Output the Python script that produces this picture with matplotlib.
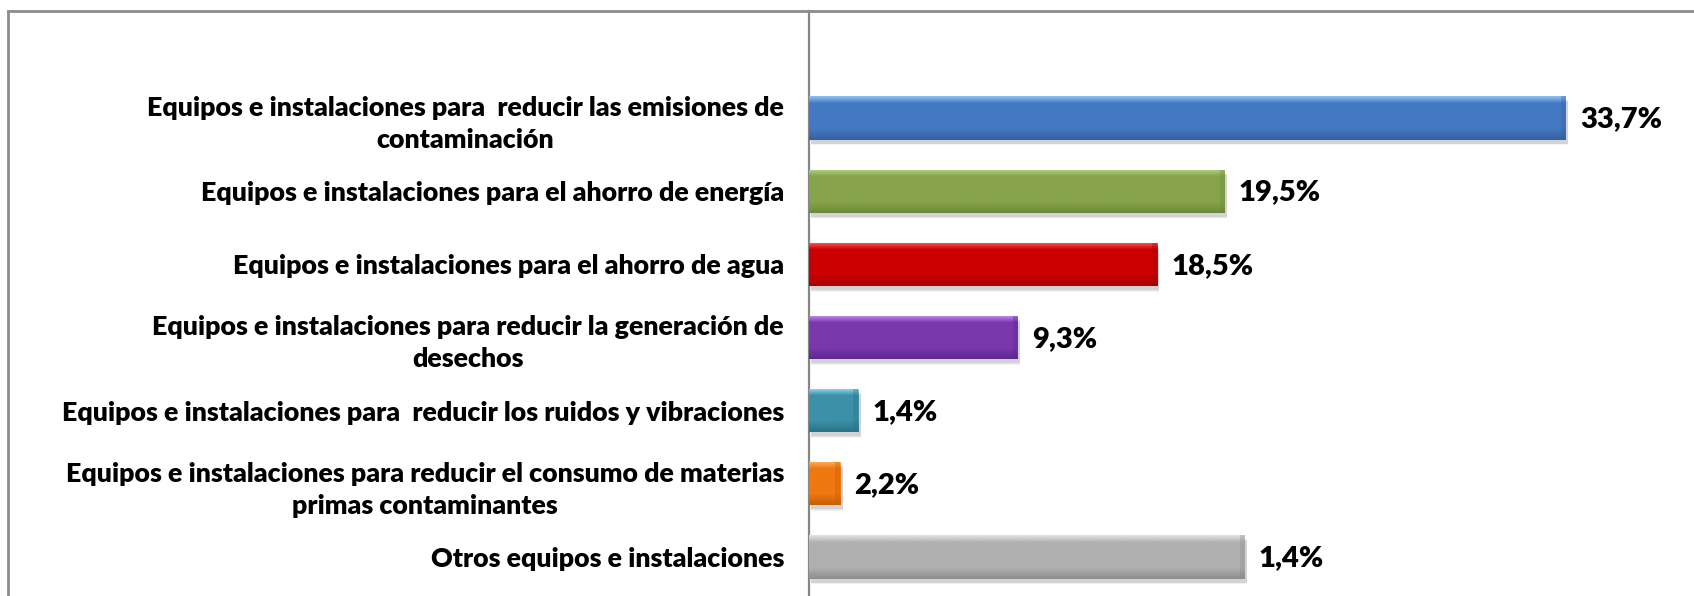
import numpy as np
import matplotlib
matplotlib.use("Agg")
import matplotlib.pyplot as plt
from matplotlib.colors import LinearSegmentedColormap
from matplotlib.lines import Line2D

# ── datos ─────────────────────────────────────────────────────────
categorias = [
    "Equipos e instalaciones para  reducir las emisiones de\ncontaminación",
    "Equipos e instalaciones para el ahorro de energía",
    "Equipos e instalaciones para el ahorro de agua",
    "Equipos e instalaciones para reducir la generación de\ndesechos",
    "Equipos e instalaciones para  reducir los ruidos y vibraciones",
    "Equipos e instalaciones para reducir el consumo de materias\nprimas contaminantes",
    "Otros equipos e instalaciones",
]
# longitud de las barras tal como aparece dibujada
valores = [33.7, 18.5, 15.5, 9.3, 2.2, 1.4, 19.4]
# etiquetas tal como aparecen en el gráfico
etiquetas = ["33,7%", "19,5%", "18,5%", "9,3%", "1,4%", "2,2%", "1,4%"]

# (claro, base, oscuro)
colores = [
    ("#8ec0f5", "#4379c2", "#3561a0"),
    ("#b5cf7c", "#86a34c", "#6d8a3a"),
    ("#ff5a5a", "#cc0000", "#a80000"),
    ("#c58ef0", "#7a38ae", "#5f2790"),
    ("#8fdcf0", "#3c90a8", "#2c7288"),
    ("#ffb060", "#ef7810", "#c85e05"),
    ("#e2e2e2", "#b0b0b0", "#8e8e8e"),
]

FONT = ["Lato", "DejaVu Sans"]

W, H = 1694, 596
fig = plt.figure(figsize=(W / 100, H / 100), dpi=100)
fig.patch.set_facecolor("white")

x0, top = 809, 11
ax = fig.add_axes([x0 / W, 0, 1 - x0 / W, 1 - top / H])
px_per_pct = 22.46

y = np.arange(len(categorias))
alto = 0.59

# sombra
dy = 4 / 73.2
for k, a in enumerate([0.10, 0.08, 0.06]):
    ax.barh(y + dy + k * 0.012, valores, height=alto, left=0.1,
            color="#404040", alpha=a, linewidth=0, zorder=1)

bars = ax.barh(y, valores, height=alto, color=[c[1] for c in colores],
               linewidth=0, zorder=2)

# degradado vertical tipo "bisel"
grad = np.linspace(0, 1, 64).reshape(-1, 1)
for b, (cl, cb, co) in zip(bars, colores):
    cmap = LinearSegmentedColormap.from_list(
        "b", [(0, cl), (0.16, cb), (0.75, cb), (1, co)])
    bx, by, bw, bh = b.get_x(), b.get_y(), b.get_width(), b.get_height()
    im = ax.imshow(grad, cmap=cmap, aspect="auto", zorder=3,
                   extent=[bx, bx + bw, by + bh, by], interpolation="bilinear")
    im.set_clip_path(b)
    # bisel en el extremo derecho
    ex = 5 / px_per_pct
    ax.fill_between([bx + bw - ex, bx + bw], by, by + bh, color=co,
                    alpha=0.35, linewidth=0, zorder=4)

ax.set_xlim(0, (W - x0) / px_per_pct)
ax.set_ylim(6.533, -1.462)

for yi, v, t in zip(y, valores, etiquetas):
    ax.text(v + 14 / px_per_pct, yi + 0.02, t, va="center", ha="left",
            fontsize=21, fontweight="heavy", family=FONT, color="black")

ax.set_yticks(y)
ax.set_yticklabels(categorias, fontsize=19.3, fontweight="heavy",
                   family=FONT, multialignment="center", linespacing=1.4)
ax.tick_params(axis="y", length=0, pad=18)
ax.set_xticks([])
for s in ["top", "right", "bottom"]:
    ax.spines[s].set_visible(False)
ax.spines["left"].set_color("#868686")
ax.spines["left"].set_linewidth(1.6)
ax.patch.set_alpha(0)

# marco del gráfico (recortado a la derecha y abajo)
fig.add_artist(Line2D([8 / W, 1], [1 - top / H] * 2, color="#8c8c8c",
                      lw=2, transform=fig.transFigure))
fig.add_artist(Line2D([8 / W] * 2, [0, 1 - top / H], color="#8c8c8c",
                      lw=2, transform=fig.transFigure))

fig.savefig("out.png", dpi=100)
